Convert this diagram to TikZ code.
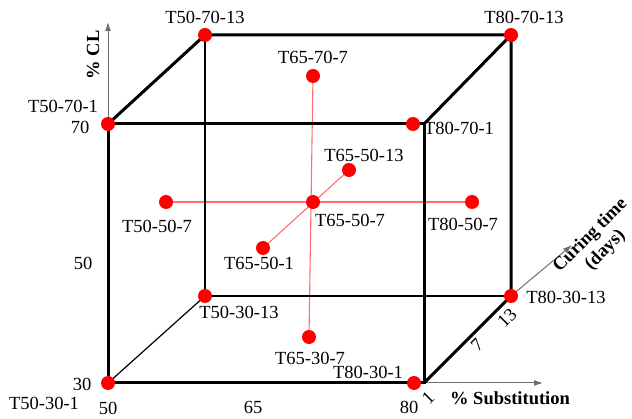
\documentclass[tikz,border=0pt]{standalone}
\usepackage{fontspec}
\setmainfont{Liberation Serif}
\usetikzlibrary{arrows.meta,backgrounds}
\begin{document}
\begin{tikzpicture}[x=1pt,y=-1pt,
 lbl/.style={font=\fontsize{18.5}{20}\selectfont, inner sep=0pt},
 blbl/.style={font=\fontsize{18.5}{21}\selectfont\bfseries, inner sep=0pt},
 pt/.style={circle, fill=red, inner sep=0pt, minimum size=14pt},
 thickedge/.style={line width=3pt, black, line join=miter},
 thinedge/.style={line width=1.2pt, black},
 redline/.style={line width=1.1pt, draw={rgb,255:red,255;green,110;blue,110}},
 axisline/.style={line width=1pt, draw={rgb,255:red,110;green,110;blue,110}, -{Latex[length=9pt,width=6pt]}}]
\useasboundingbox (0,0) rectangle (632,419);
% corners and axis ends
\coordinate (FTR) at (424,124);
\coordinate (FBR) at (424,383);
\coordinate (yend) at (108,22);
\coordinate (xend) at (543,383);
\coordinate (zend) at (572,245);
% dots
\node[pt] (p5070_13) at (205,35) {};
\node[pt] (p8070_13) at (511,35) {};
\node[pt] (p5070_1) at (108,124) {};
\node[pt] (p8070_1) at (413,124) {};
\node[pt] (p5030_13) at (205,296) {};
\node[pt] (p8030_13) at (511,296) {};
\node[pt] (p5030_1) at (108,383) {};
\node[pt] (p8030_1) at (414,383) {};
\node[pt] (c) at (313,202) {};
\node[pt] (l) at (166,202) {};
\node[pt] (r) at (472,202) {};
\node[pt] (t) at (313,76) {};
\node[pt] (b) at (309,337) {};
\node[pt] (f) at (263,248) {};
\node[pt] (k) at (349,170) {};
\begin{pgfonlayer}{background}
\draw[redline] (l.center) -- (r.center);
\draw[redline] (t.center) -- (b.center);
\draw[redline] (f.center) -- (k.center);
\draw[thinedge] (p5070_13.center) -- (p5030_13.center) -- (p8030_13.center);
\draw[thinedge] (p5030_1.center) -- (p5030_13.center);
\draw[axisline] (p5070_1.center) -- (yend);
\draw[axisline] (FBR) -- (xend);
\draw[axisline] (p8030_13.center) -- (zend);
\draw[thickedge] (p5030_1.center) -- (p5070_1.center) -- (FTR) -- (FBR) -- cycle;
\draw[thickedge] (p5070_1.center) -- (p5070_13.center) -- (p8070_13.center) -- (p8030_13.center) -- (FBR);
\draw[thickedge] (FTR) -- (p8070_13.center);
\end{pgfonlayer}
% labels
\node[lbl] (l1) at (205,17) {T50-70-13};
\node[lbl] (l2) at (524,17) {T80-70-13};
\node[lbl] (l3) at (63,106) {T50-70-1};
\node[lbl] (l4) at (80,127) {70};
\node[lbl] (l5) at (313,57) {T65-70-7};
\node[lbl] (l6) at (459,128) {T80-70-1};
\node[lbl] (l7) at (364,155) {T65-50-13};
\node[lbl] (l8) at (157,226) {T50-50-7};
\node[lbl] (l9) at (350,220) {T65-50-7};
\node[lbl] (l10) at (463,224) {T80-50-7};
\node[lbl] (l11) at (259,263) {T65-50-1};
\node[lbl] (l12) at (83,263) {50};
\node[lbl] (l13) at (239,312) {T50-30-13};
\node[lbl] (l14) at (310,358) {T65-30-7};
\node[lbl] (l15) at (82,384) {30};
\node[lbl] (l16) at (44,403) {T50-30-1};
\node[lbl] (l17) at (108,408) {50};
\node[lbl] (l18) at (253,407) {65};
\node[lbl] (l19) at (409,407) {80};
\node[lbl, rotate=45] (l20) at (428,398) {1};
\node[lbl, rotate=45] (l21) at (477,345) {7};
\node[lbl, rotate=45] (l22) at (507,318) {13};
\node[lbl] (l23) at (566,297) {T80-30-13};
\node[lbl] (l24) at (368,372) {T80-30-1};
\node[blbl, rotate=90] (ycap) at (93,55) {\% CL};
\node[blbl] (xcap) at (510,398) {\% Substitution};
\node[blbl, rotate=45, align=center] (zcap) at (598,243) {Curing time\\(days)};
\end{tikzpicture}
\end{document}
